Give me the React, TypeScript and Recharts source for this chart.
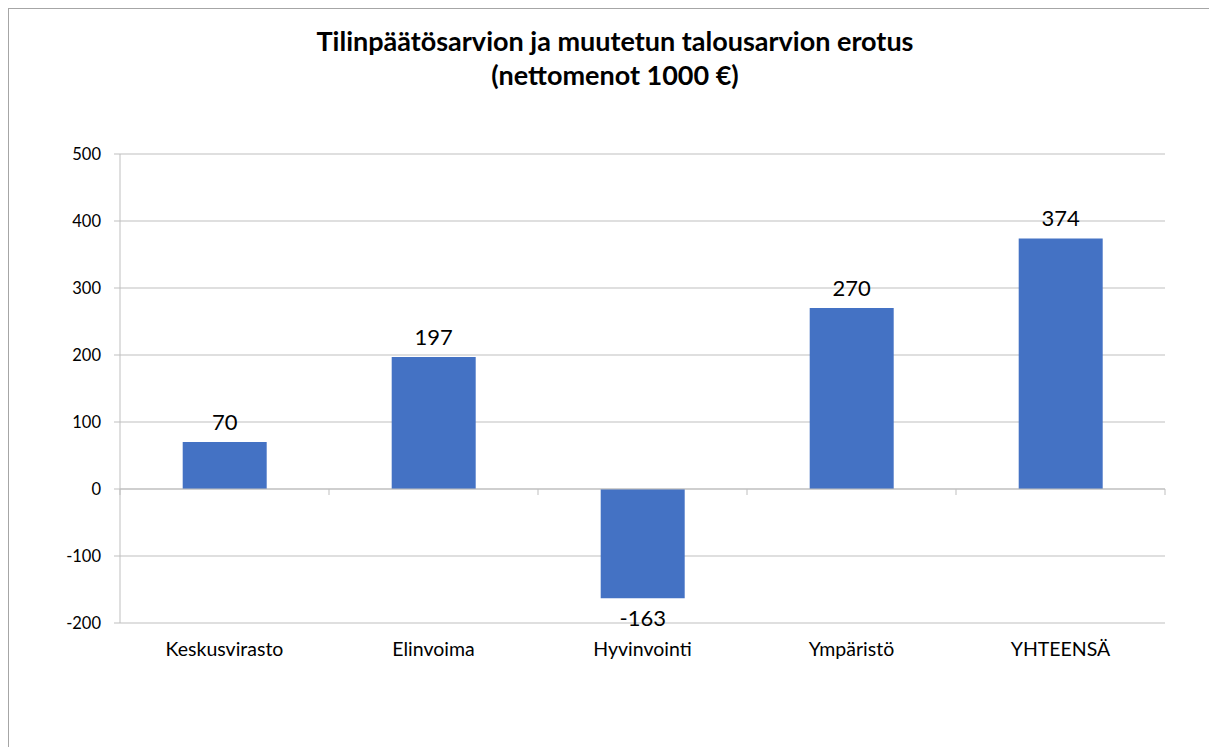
import React from 'react';
import { BarChart, Bar, XAxis, YAxis, CartesianGrid, ReferenceLine, LabelList } from 'recharts';

const categories = ['Keskusvirasto', 'Elinvoima', 'Hyvinvointi', 'Ympäristö', 'YHTEENSÄ'];
const values = [70, 197, -163, 270, 374];
const yTicks = [-200, -100, 0, 100, 200, 300, 400, 500];
const titleLines = ['Tilinpäätösarvion ja muutetun talousarvion erotus', '(nettomenot 1000 €)'];

const data = categories.map((name, i) => ({ name, value: values[i] }));

const FONT = 'Lato, "Open Sans", sans-serif';
const GRID = '#bfbfbf';

const ZeroAxis = (p: any) => {
  const { x1, y1, x2, y2 } = p;
  const n = categories.length;
  const ticks = [];
  for (let i = 0; i <= n; i++) {
    const x = x1 + (i * (x2 - x1)) / n;
    ticks.push(<line key={i} x1={x} x2={x} y1={y1} y2={y1 + 6} stroke={GRID} strokeWidth={1} />);
  }
  return (
    <g>
      <line x1={x1} y1={y1} x2={x2} y2={y2} stroke={GRID} strokeWidth={1} />
      {ticks}
    </g>
  );
};

export default function App() {
  return (
    <div
      style={{
        position: 'relative',
        width: 1209,
        height: 739,
        borderTop: '1px solid #a6a6a6',
        borderLeft: '1px solid #a6a6a6',
        boxSizing: 'border-box',
        background: '#fff',
        fontFamily: FONT,
      }}
    >
      <div
        style={{
          position: 'absolute',
          left: 0,
          top: 15,
          width: 1212,
          textAlign: 'center',
          fontWeight: 700,
          fontSize: 27,
          lineHeight: '34px',
          color: '#000',
        }}
      >
        {titleLines.map((t) => (
          <div key={t}>{t}</div>
        ))}
      </div>
      <BarChart
        width={1208}
        height={738}
        data={data}
        margin={{ top: 145, right: 52, left: 0, bottom: 84 }}
        barCategoryGap="30%"
      >
        <CartesianGrid vertical={false} stroke={GRID} />
        <XAxis
          dataKey="name"
          axisLine={false}
          tickLine={false}
          height={40}
          tickMargin={13}
          interval={0}
          tick={{ fill: '#000', fontSize: 19.5, fontFamily: FONT }}
        />
        <YAxis
          type="number"
          domain={[-200, 500]}
          ticks={yTicks}
          width={111}
          interval={0}
          axisLine={{ stroke: GRID }}
          tickLine={{ stroke: GRID }}
          tickSize={6}
          tickMargin={13}
          tick={{ fill: '#000', fontSize: 16.5, fontFamily: FONT }}
        />
        <Bar dataKey="value" fill="#4472C4" isAnimationActive={false}>
          <LabelList dataKey="value" position="top" offset={12} fill="#000" fontSize={22} fontFamily={FONT} />
        </Bar>
        <ReferenceLine y={0} stroke={GRID} shape={ZeroAxis} />
      </BarChart>
    </div>
  );
}
